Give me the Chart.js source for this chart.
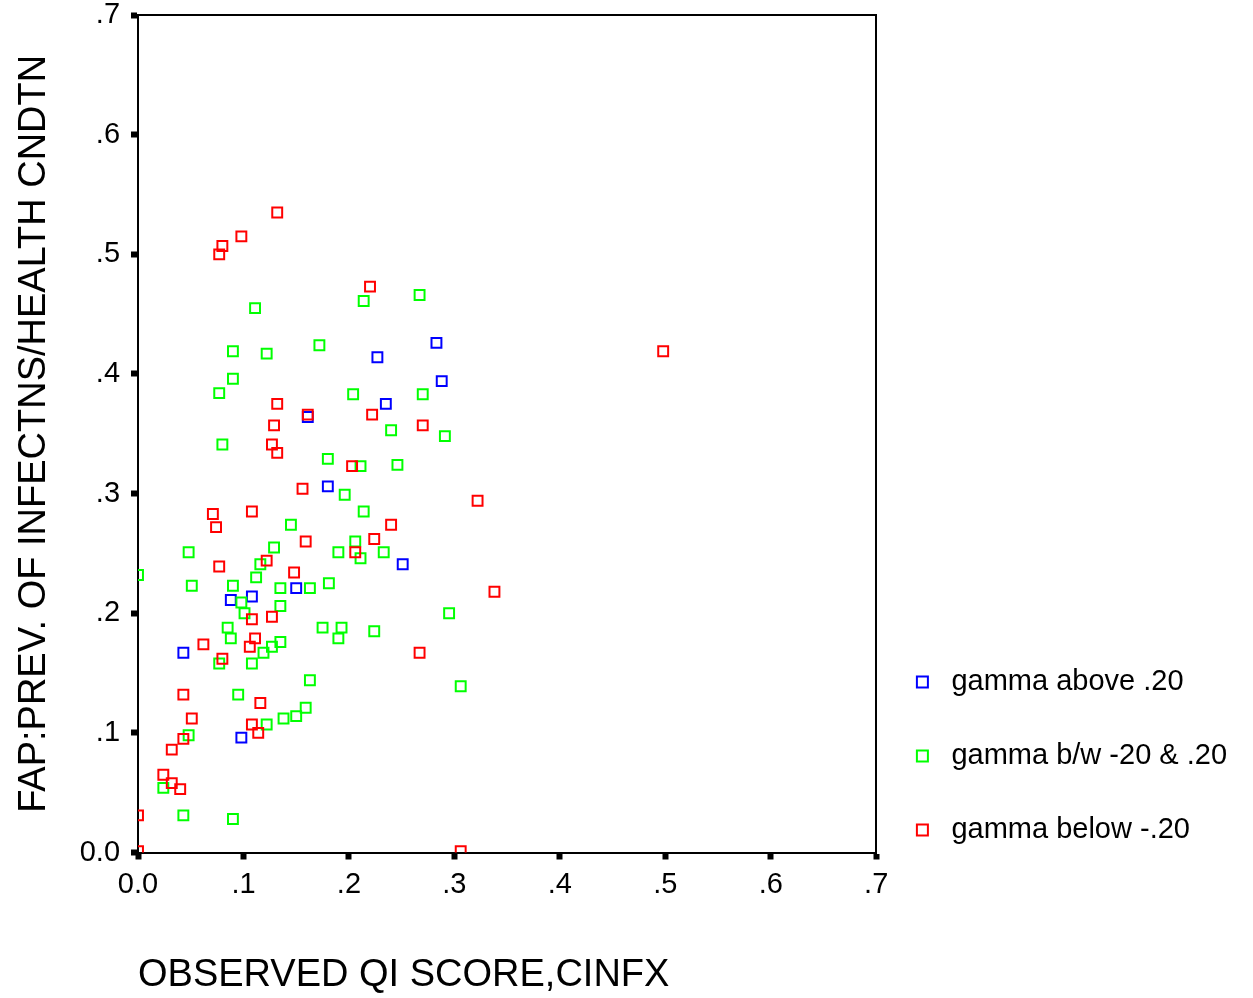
<!DOCTYPE html>
<html>
<head>
<meta charset="utf-8">
<script src="https://cdn.jsdelivr.net/npm/chart.js@4.4.1/dist/chart.umd.min.js"></script>
<style>
html,body{margin:0;padding:0;background:#fff;}
#wrap{width:1253px;height:998px;position:relative;}
</style>
</head>
<body>
<div id="wrap"><canvas id="c"></canvas></div>
<script>
// ---- data ----
const seriesNames = ['gamma above .20', 'gamma b/w -20 & .20', 'gamma below -.20'];
const seriesColors = ['#0000ff', '#00ff00', '#ff0000'];
const tickValues = [0, 0.1, 0.2, 0.3, 0.4, 0.5, 0.6, 0.7];
const tickLabels = ['0.0', '.1', '.2', '.3', '.4', '.5', '.6', '.7'];

const blueX = [0.283,0.227,0.288,0.235,0.161,0.180,0.251,0.150,0.108,0.088,0.043,0.098];
const blueY = [0.426,0.414,0.394,0.375,0.364,0.306,0.241,0.221,0.214,0.211,0.167,0.096];

const greenX = [0.111,0.214,0.267,0.172,0.090,0.122,0.090,0.077,0.204,0.270,0.240,0.291,0.080,0.180,0.211,0.246,0.196,0.214,0.145,0.129,0.206,0.190,0.233,0.211,0.048,0.116,0.112,0.000,0.051,0.090,0.135,0.163,0.181,0.098,0.135,0.101,0.085,0.088,0.127,0.135,0.119,0.077,0.108,0.175,0.193,0.190,0.224,0.295,0.163,0.095,0.306,0.159,0.150,0.138,0.122,0.048,0.024,0.043,0.090];
const greenY = [0.455,0.461,0.466,0.424,0.419,0.417,0.396,0.384,0.383,0.383,0.353,0.348,0.341,0.329,0.323,0.324,0.299,0.285,0.274,0.255,0.260,0.251,0.251,0.246,0.251,0.241,0.230,0.232,0.223,0.223,0.221,0.221,0.225,0.209,0.206,0.200,0.188,0.179,0.172,0.176,0.167,0.158,0.158,0.188,0.188,0.179,0.185,0.200,0.144,0.132,0.139,0.121,0.114,0.112,0.107,0.098,0.054,0.031,0.028];

const redX = [0.132,0.098,0.080,0.077,0.220,0.498,0.132,0.161,0.222,0.129,0.270,0.127,0.132,0.203,0.156,0.322,0.071,0.108,0.074,0.240,0.159,0.224,0.206,0.077,0.122,0.148,0.108,0.127,0.111,0.106,0.062,0.080,0.267,0.338,0.043,0.116,0.051,0.108,0.114,0.043,0.032,0.024,0.032,0.040,0.000,0.000,0.306];
const redY = [0.535,0.515,0.507,0.500,0.473,0.419,0.375,0.366,0.366,0.357,0.357,0.341,0.334,0.323,0.304,0.294,0.283,0.285,0.272,0.274,0.260,0.262,0.251,0.239,0.244,0.234,0.195,0.197,0.179,0.172,0.174,0.162,0.167,0.218,0.132,0.125,0.112,0.107,0.100,0.095,0.086,0.065,0.058,0.053,0.031,0.001,0.001];

const xTitle = 'OBSERVED QI SCORE,CINFX';
const yTitle = 'FAP:PREV. OF INFECTNS/HEALTH CNDTN';

// ---- build ----
function pts(xs, ys){ return xs.map((x,i)=>({x:x, y:ys[i]})); }
function fmt(v){
  const i = tickValues.findIndex(t => Math.abs(t - v) < 1e-9);
  return i >= 0 ? tickLabels[i] : '';
}

Chart.defaults.font.family = "'Liberation Sans', Arial, Helvetica, sans-serif";
Chart.defaults.color = '#000';

const seriesData = [pts(blueX, blueY), pts(greenX, greenY), pts(redX, redY)];
const datasets = seriesData.map((d, i) => ({
  label: seriesNames[i],
  data: d,
  xAxisID: 'x',
  yAxisID: 'y',
  order: 3 - i,
  pointStyle: 'rect',
  pointRadius: 7,
  pointHoverRadius: 7,
  pointBorderWidth: 2,
  borderWidth: 2,
  pointBorderColor: seriesColors[i],
  borderColor: seriesColors[i],
  pointBackgroundColor: 'rgba(0,0,0,0)',
  backgroundColor: 'rgba(0,0,0,0)',
  showLine: false
}));

const tickGrid = {display: true, drawOnChartArea: false, drawTicks: true, tickLength: 7, tickWidth: 6, tickColor: '#000', color: '#000'};
const frame = {color: '#000', width: 2};

// let the legend text run to the canvas edge (legend box is narrower than its text)
const legendRoom = {
  id: 'legendRoom',
  afterLayout(chart) {
    const l = chart.legend;
    if (l) { l.right = chart.width; l.width = l.right - l.left; }
  }
};

new Chart(document.getElementById('c'), {
  type: 'scatter',
  data: {datasets: datasets},
  plugins: [legendRoom],
  options: {
    responsive: true,
    maintainAspectRatio: false,
    animation: false,
    layout: {padding: {top: 0, right: 218.8, bottom: 0, left: 0}},
    plugins: {
      tooltip: {enabled: false},
      legend: {
        display: true,
        position: 'right',
        align: 'start',
        maxWidth: 150,
        title: {display: true, text: ' ', font: {size: 12}, padding: {top: 629.4, bottom: 0}},
        labels: {
          usePointStyle: true,
          pointStyle: 'rect',
          boxWidth: 29,
          boxHeight: 11,
          padding: 23.7,
          color: '#000',
          font: {size: 29, lineHeight: 50.3 / 29},
          sort: (a, b) => a.datasetIndex - b.datasetIndex,
          generateLabels: (chart) => Chart.defaults.plugins.legend.labels.generateLabels(chart).map(it => Object.assign({}, it, {text: [it.text]}))
        }
      }
    },
    scales: {
      x: {
        type: 'linear', position: 'bottom', min: 0, max: 0.7,
        afterBuildTicks: (s) => { s.ticks = tickValues.map(v => ({value: v})); },
        ticks: {callback: fmt, font: {size: 29, lineHeight: 1.2}, padding: 8, maxRotation: 0, autoSkip: false},
        grid: tickGrid,
        border: frame,
        title: {display: true, text: xTitle, align: 'start', font: {size: 38}, padding: {top: 42.1, bottom: 0}}
      },
      y: {
        type: 'linear', position: 'left', min: 0, max: 0.7,
        afterBuildTicks: (s) => { s.ticks = tickValues.map(v => ({value: v})); },
        ticks: {callback: fmt, font: {size: 29, lineHeight: 0.28}, padding: 11, autoSkip: false},
        grid: tickGrid,
        border: frame,
        title: {display: true, text: yTitle, font: {size: 38}, padding: {top: 12, bottom: 11.1}}
      },
      x2: {
        type: 'linear', position: 'top', min: 0, max: 0.7,
        ticks: {display: false}, grid: {display: false}, border: frame
      },
      y2: {
        type: 'linear', position: 'right', min: 0, max: 0.7,
        ticks: {display: false}, grid: {display: false}, border: frame
      }
    }
  }
});
</script>
</body>
</html>
